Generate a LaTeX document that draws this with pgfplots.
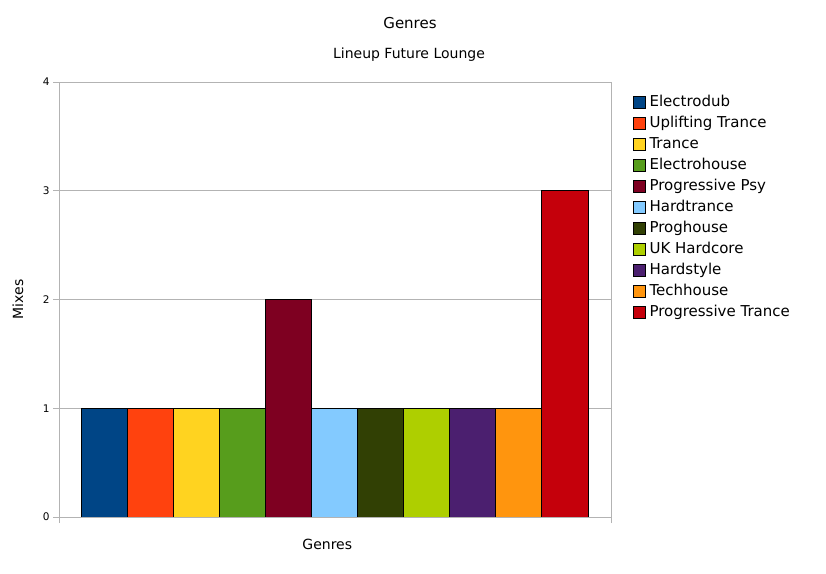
\documentclass[border=0pt]{standalone}
\usepackage{pgfplots}
\pgfplotsset{compat=1.18}
\usepackage{fontspec}
\setmainfont{DejaVu Sans}
\definecolor{c1}{HTML}{004586}
\definecolor{c2}{HTML}{FF420E}
\definecolor{c3}{HTML}{FFD320}
\definecolor{c4}{HTML}{579D1C}
\definecolor{c5}{HTML}{7E0021}
\definecolor{c6}{HTML}{83CAFF}
\definecolor{c7}{HTML}{314004}
\definecolor{c8}{HTML}{AECF00}
\definecolor{c9}{HTML}{4B1F6F}
\definecolor{c10}{HTML}{FF950E}
\definecolor{c11}{HTML}{C5000B}
\definecolor{gridgray}{HTML}{B3B3B3}
\begin{document}
\begin{tikzpicture}
\path[use as bounding box] (0,0) rectangle (826bp,574bp);
\begin{axis}[
  at={(59bp,57bp)}, anchor=south west,
  scale only axis, width=552bp, height=435bp,
  xmin=-0.977, xmax=11.0, ymin=0, ymax=4,
  ytick={0,1,2,3,4},
  xtick={-0.977,11.0}, xticklabels={},
  xtick pos=left, ytick pos=left,
  tick align=outside, major tick length=6bp,
  tick style={gridgray, line width=0.8bp},
  axis line style={gridgray, line width=0.8bp},
  ymajorgrids, grid style={gridgray, line width=0.8bp},
  /pgf/number format/assume math mode=true,
  yticklabel style={font=\fontsize{10.5bp}{12bp}\selectfont},
  ylabel={Mixes}, xlabel={Genres},
  label style={font=\fontsize{14bp}{16bp}\selectfont},
  ylabel style={at={(axis description cs:-0.0743,0.5)}, anchor=center},
  xlabel style={at={(axis description cs:0.486,-0.064)}, anchor=center},
  every axis plot/.append style={ybar, bar width=1, bar shift=0pt, draw=black, line width=0.8bp},
  area legend,
  legend image code/.code={\draw[#1, line width=0.6bp] (0bp,-5.5bp) rectangle (12bp,6.5bp); \path[draw=none, fill=none] (0bp,0bp) rectangle (14bp,0.1bp);},
  legend cell align=left,
  legend style={draw=none, fill=none, at={(axis description cs:1.0345,0.979)}, anchor=north west,
    font=\fontsize{15bp}{18bp}\selectfont, row sep=3bp,
    nodes={text height=11bp, text depth=3bp, inner sep=2bp}},
]
\addplot[fill=c1] coordinates {(0,1)};
\addlegendentry{Electrodub}
\addplot[fill=c2] coordinates {(1,1)};
\addlegendentry{Uplifting Trance}
\addplot[fill=c3] coordinates {(2,1)};
\addlegendentry{Trance}
\addplot[fill=c4] coordinates {(3,1)};
\addlegendentry{Electrohouse}
\addplot[fill=c5] coordinates {(4,2)};
\addlegendentry{Progressive Psy}
\addplot[fill=c6] coordinates {(5,1)};
\addlegendentry{Hardtrance}
\addplot[fill=c7] coordinates {(6,1)};
\addlegendentry{Proghouse}
\addplot[fill=c8] coordinates {(7,1)};
\addlegendentry{UK Hardcore}
\addplot[fill=c9] coordinates {(8,1)};
\addlegendentry{Hardstyle}
\addplot[fill=c10] coordinates {(9,1)};
\addlegendentry{Techhouse}
\addplot[fill=c11] coordinates {(10,3)};
\addlegendentry{Progressive Trance}
\end{axis}
\node[font=\fontsize{15bp}{18bp}\selectfont] at (410bp,551bp) {Genres};
\node[font=\fontsize{14bp}{16bp}\selectfont] at (409bp,519bp) {Lineup Future Lounge};
\end{tikzpicture}
\end{document}
